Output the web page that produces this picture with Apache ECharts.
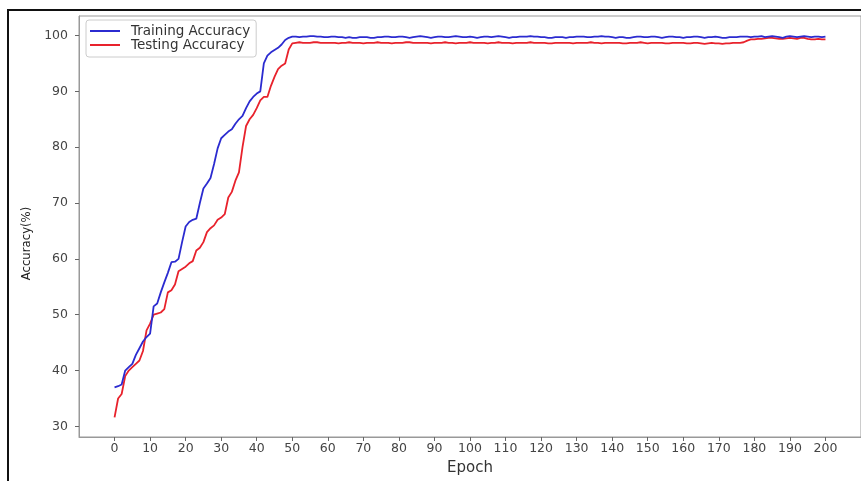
<!DOCTYPE html>
<html lang="en">
<head>
  <meta charset="utf-8">
  <title>Accuracy vs Epoch</title>
  <script type="text/javascript" src="https://cdn.jsdelivr.net/npm/echarts@6/dist/echarts.min.js"></script>
  <style type="text/css">
    * {
      margin: 0;
      padding: 0;
    }
    html, body, #chart {
      width: 100%;
      height: 100%;
      overflow: hidden;
      background: #fff;
    }
  </style>
</head>
<body>
  <div id="chart"></div>
  <script type="text/javascript">
    // epochs 0..200
    var trainAcc = [
      37.0, 37.2, 37.5, 40.0, 40.6, 41.2, 42.8, 44.0, 45.2, 46.0,
      46.6, 51.5, 52.0, 54.0, 55.8, 57.5, 59.4, 59.5, 60.0, 63.0,
      65.8, 66.6, 67.0, 67.2, 70.0, 72.6, 73.5, 74.5, 77.0, 79.8,
      81.6, 82.2, 82.8, 83.2, 84.2, 85.0, 85.6, 87.0, 88.2, 89.0,
      89.6, 90.0, 95.0, 96.4, 97.0, 97.4, 97.8, 98.4, 99.2, 99.6,
      99.8,
      99.8, 99.7, 99.8, 99.8, 99.9, 99.9, 99.8, 99.8, 99.7, 99.7,
      99.8, 99.8, 99.7, 99.7, 99.6, 99.7, 99.6, 99.6, 99.7, 99.7,
      99.7, 99.6, 99.6, 99.7, 99.7, 99.8, 99.8, 99.7, 99.7, 99.8,
      99.8, 99.7, 99.6, 99.7, 99.8, 99.9, 99.8, 99.7, 99.6, 99.7,
      99.8, 99.8, 99.7, 99.7, 99.8, 99.9, 99.8, 99.7, 99.7, 99.8,
      99.7, 99.6, 99.7, 99.8, 99.8, 99.7, 99.8, 99.9, 99.8, 99.7,
      99.6, 99.7, 99.7, 99.8, 99.8, 99.8, 99.9, 99.8, 99.8, 99.7,
      99.7, 99.6, 99.6, 99.7, 99.7, 99.7, 99.6, 99.7, 99.7, 99.8,
      99.8, 99.8, 99.7, 99.7, 99.8, 99.8, 99.9, 99.8, 99.8, 99.7,
      99.6, 99.7, 99.7, 99.6, 99.6, 99.7, 99.8, 99.8, 99.7, 99.7,
      99.8, 99.8, 99.7, 99.6, 99.7, 99.8, 99.8, 99.7, 99.7, 99.6,
      99.7, 99.7, 99.8, 99.8, 99.7, 99.6, 99.7, 99.7, 99.8, 99.7,
      99.6, 99.6, 99.7, 99.7, 99.7, 99.8, 99.8, 99.8, 99.7, 99.8,
      99.8, 99.9, 99.7, 99.8, 99.9, 99.8, 99.7, 99.6, 99.8, 99.9,
      99.8, 99.7, 99.8, 99.9, 99.8, 99.7, 99.8, 99.8, 99.7, 99.8
    ];
    var testAcc = [
      31.6, 35.0, 35.8, 39.0, 40.0, 40.6, 41.2, 41.8, 43.5, 47.2,
      48.4, 50.0, 50.2, 50.4, 51.0, 54.0, 54.4, 55.4, 57.8, 58.2,
      58.6, 59.2, 59.6, 61.5, 62.0, 63.0, 64.8, 65.5, 66.0, 67.0,
      67.4, 68.0, 71.0, 72.0, 74.0, 75.5, 80.0, 83.8, 85.0, 85.8,
      87.0, 88.4, 89.0, 89.0, 91.0, 92.6, 94.0, 94.6, 95.0, 97.5,
      98.6,
      98.7, 98.8, 98.7, 98.7, 98.7, 98.8, 98.8, 98.7, 98.7, 98.7,
      98.7, 98.7, 98.6, 98.7, 98.7, 98.8, 98.7, 98.7, 98.7, 98.6,
      98.7, 98.7, 98.7, 98.8, 98.7, 98.7, 98.7, 98.6, 98.7, 98.7,
      98.7, 98.8, 98.8, 98.7, 98.7, 98.7, 98.7, 98.7, 98.6, 98.7,
      98.7, 98.7, 98.8, 98.7, 98.7, 98.6, 98.7, 98.7, 98.7, 98.8,
      98.7, 98.7, 98.7, 98.7, 98.6, 98.7, 98.7, 98.8, 98.7, 98.7,
      98.7, 98.6, 98.7, 98.7, 98.7, 98.7, 98.8, 98.7, 98.7, 98.7,
      98.7, 98.6, 98.6, 98.7, 98.7, 98.7, 98.7, 98.7, 98.6, 98.7,
      98.7, 98.7, 98.7, 98.8, 98.7, 98.7, 98.6, 98.7, 98.7, 98.7,
      98.7, 98.7, 98.6, 98.6, 98.7, 98.7, 98.7, 98.8, 98.7, 98.6,
      98.7, 98.7, 98.7, 98.7, 98.6, 98.6, 98.7, 98.7, 98.7, 98.7,
      98.6, 98.6, 98.7, 98.7, 98.6, 98.5, 98.6, 98.7, 98.6, 98.6,
      98.5, 98.6, 98.6, 98.7, 98.7, 98.7, 98.8, 99.1, 99.3, 99.3,
      99.4, 99.4, 99.5, 99.6, 99.6, 99.5, 99.4, 99.4, 99.5, 99.6,
      99.5, 99.4, 99.6, 99.6, 99.4, 99.3, 99.3, 99.4, 99.3, 99.3
    ];
    var xTicks = [0, 10, 20, 30, 40, 50, 60, 70, 80, 90, 100, 110, 120, 130, 140, 150, 160, 170, 180, 190, 200];
    var yTicks = [30, 40, 50, 60, 70, 80, 90, 100];

    function pairs(values) {
      return values.map(function (v, i) { return [i, v]; });
    }

    var font = 'DejaVu Sans';
    var option = {
      animation: false,
      backgroundColor: '#fff',
      // black frame around the figure
      graphic: [{
        type: 'rect',
        shape: { x: 8, y: 10, width: 900, height: 520 },
        style: { fill: 'none', stroke: '#111', lineWidth: 2 },
        silent: true
      }],
      grid: {
        left: 79,
        right: -5,
        top: 16,
        bottom: 34,
        show: true,
        borderColor: '#999',
        borderWidth: 1
      },
      legend: {
        orient: 'vertical',
        left: 86,
        top: 20,
        padding: [4, 6, 5, 4],
        itemGap: 0,
        itemWidth: 30,
        itemHeight: 2,
        icon: 'rect',
        borderColor: '#ccc',
        borderWidth: 1,
        borderRadius: 3,
        backgroundColor: 'rgba(255,255,255,0.85)',
        textStyle: { fontFamily: font, fontSize: 13.5, lineHeight: 14, color: '#333', padding: [0, 0, 0, 6] },
        data: ['Training Accuracy', 'Testing Accuracy']
      },
      xAxis: {
        type: 'value',
        min: -10,
        max: 210,
        interval: 10,
        name: 'Epoch',
        nameLocation: 'middle',
        nameGap: 24,
        nameTextStyle: { fontFamily: font, fontSize: 15, color: '#333' },
        axisLine: { lineStyle: { color: '#999' } },
        axisTick: { length: 4, lineStyle: { color: '#666' }, customValues: xTicks },
        axisLabel: { fontFamily: font, fontSize: 12.5, color: '#444', margin: 5, customValues: xTicks },
        splitLine: { show: false }
      },
      yAxis: {
        type: 'value',
        min: 28.1,
        max: 103.5,
        name: 'Accuracy(%)',
        nameLocation: 'middle',
        nameGap: 46,
        nameTextStyle: { fontFamily: 'DejaVu Sans Condensed', fontSize: 13, color: '#222', padding: [0, 34, 0, 0] },
        axisLine: { show: true, onZero: false, lineStyle: { color: '#999' } },
        axisTick: { show: true, length: 4, lineStyle: { color: '#666' }, customValues: yTicks },
        axisLabel: { fontFamily: font, fontSize: 12.5, color: '#444', margin: 11, customValues: yTicks },
        splitLine: { show: false }
      },
      series: [{
        name: 'Training Accuracy',
        type: 'line',
        showSymbol: false,
        data: pairs(trainAcc),
        lineStyle: { color: '#2b2bd0', width: 1.8 },
        itemStyle: { color: '#2b2bd0' },
        z: 3
      }, {
        name: 'Testing Accuracy',
        type: 'line',
        showSymbol: false,
        data: pairs(testAcc),
        lineStyle: { color: '#e8222c', width: 1.8 },
        itemStyle: { color: '#e8222c' },
        z: 2
      }]
    };
    var chart = echarts.init(document.getElementById('chart'));
    chart.setOption(option);
  </script>
</body>
</html>
